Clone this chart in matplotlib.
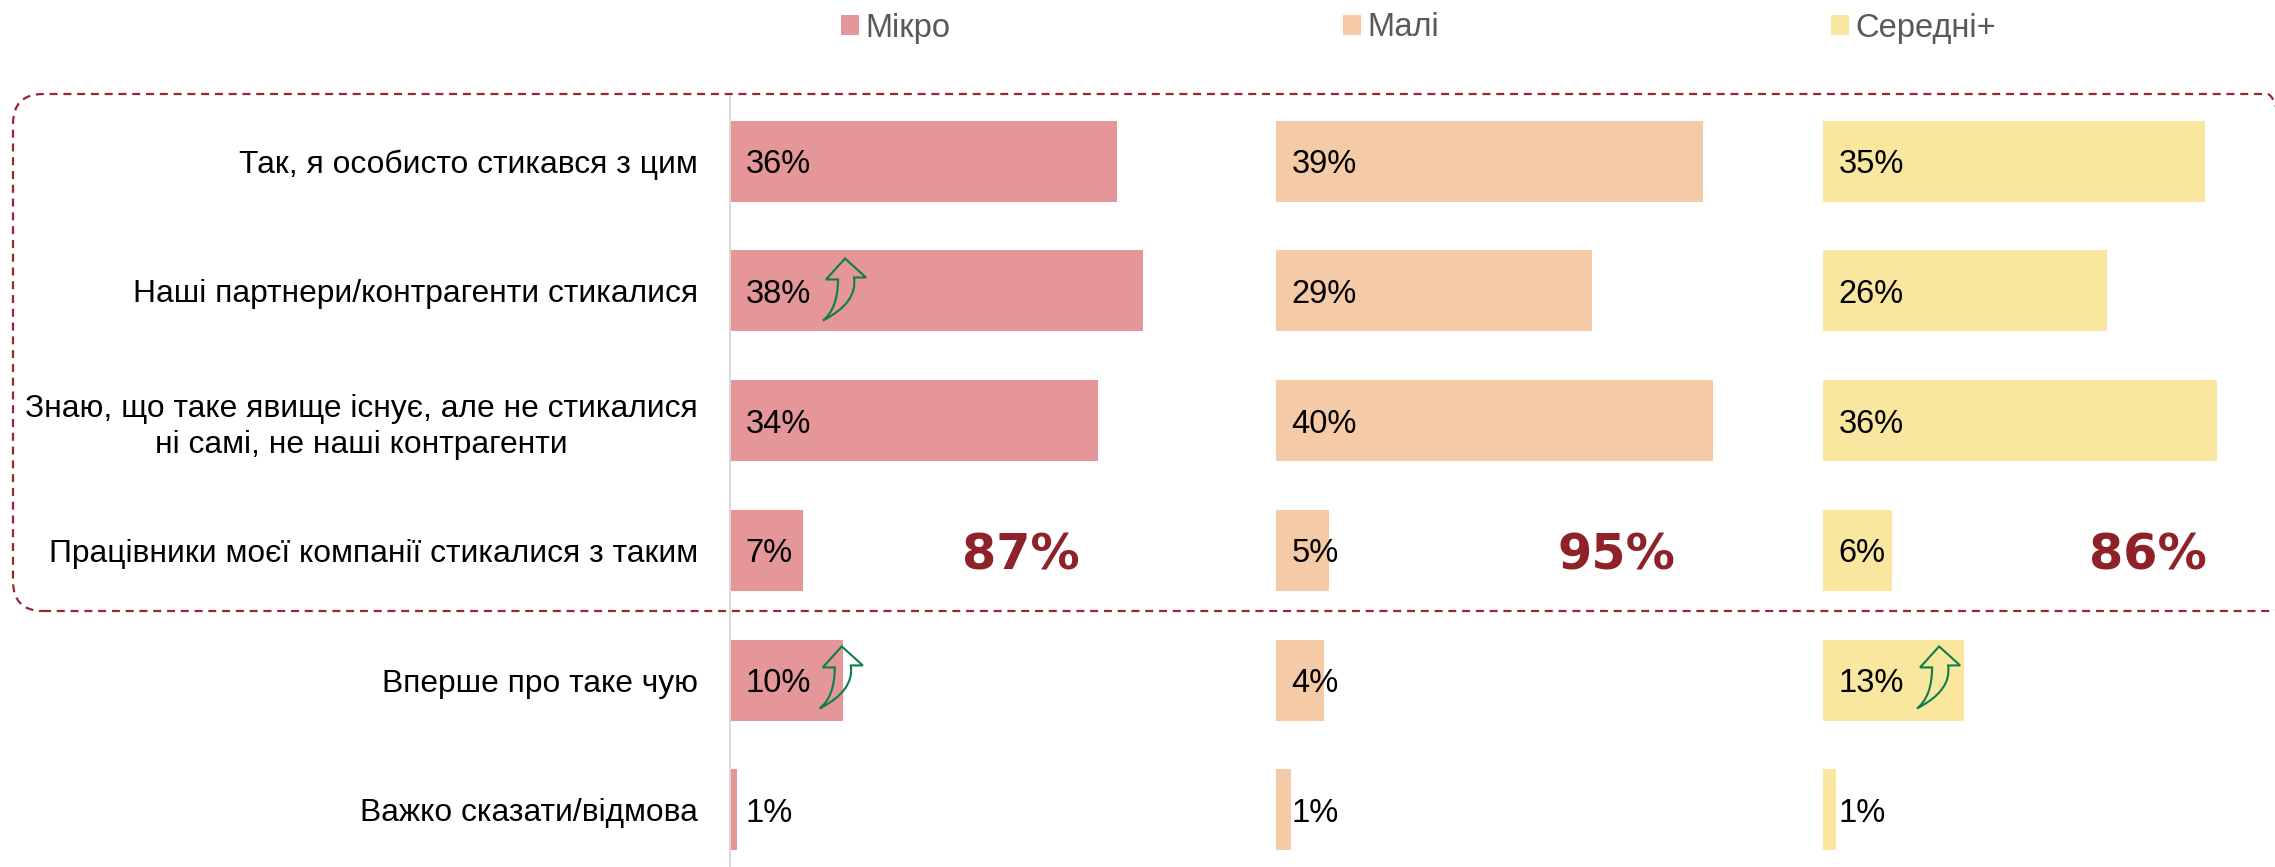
import matplotlib
matplotlib.use('Agg')
import matplotlib.pyplot as plt
from matplotlib.patches import FancyBboxPatch, PathPatch
from matplotlib.path import Path
from matplotlib.transforms import Affine2D, IdentityTransform

W, H = 2275, 867

categories = [
    "Так, я особисто стикався з цим",
    "Наші партнери/контрагенти стикалися",
    "Знаю, що таке явище існує, але не стикалися\nні самі, не наші контрагенти",
    "Працівники моєї компанії стикалися з таким",
    "Вперше про таке чую",
    "Важко сказати/відмова",
]
groups = ["Мікро", "Малі", "Середні+"]
mikro = [35.7, 38.1, 33.9, 6.7, 10.4, 0.6]
mali = [39.4, 29.1, 40.3, 4.9, 4.4, 1.4]
seredni = [35.2, 26.2, 36.3, 6.4, 13.0, 1.2]
totals = ["87%", "95%", "86%"]
colors = ["#E49699", "#F5CBA7", "#F9E79F"]

plt.rcParams['font.family'] = ['Liberation Sans', 'DejaVu Sans']

fig = plt.figure(figsize=(W / 100, H / 100), dpi=100)

PX_PER_PCT = 10.85
left_edges = [730, 1276, 1823]
legend_x = [841, 1343, 1831]
total_x = [21.4, 25.9, 24.5]
top, bottom = 95, 867
rows = list(range(len(categories)))


def make_axes(x0, width):
    ax = fig.add_axes([x0 / W, 1 - bottom / H, width / W, (bottom - top) / H])
    ax.set_xlim(0, width / PX_PER_PCT)
    ax.set_ylim(5.44, -0.51)
    ax.patch.set_alpha(0)
    for s in ax.spines.values():
        s.set_visible(False)
    ax.set_xticks([])
    ax.set_yticks([])
    return ax


def curved_arrow(ax, x, y):
    # tip of the arrow sits at x, y, outline is in pixels around it
    verts = [(0, 0), (21, 19), (9, 19), (13, 44), (-22, 62), (-7, 50), (-7, 21), (-19, 21), (0, 0)]
    codes = [Path.MOVETO, Path.LINETO, Path.LINETO, Path.CURVE3, Path.CURVE3,
             Path.CURVE3, Path.CURVE3, Path.LINETO, Path.CLOSEPOLY]
    px, py = ax.transData.transform((x, y))
    tr = Affine2D().scale(1, -1).translate(px, py)
    ax.add_patch(PathPatch(Path(verts, codes), transform=tr, facecolor='none',
                           edgecolor='#0B7F45', lw=1.5, clip_on=False, zorder=5))


axes = []
for i, vals in enumerate([mikro, mali, seredni]):
    ax = make_axes(left_edges[i], [500, 500, 452][i])
    bars = ax.barh(rows, vals, height=0.625, color=colors[i], label=groups[i])
    for r, v in zip(rows, vals):
        ax.annotate(f"{v:.0f}%", (0, r), xytext=(11, -2.5), textcoords='offset points',
                    va='center', ha='left', fontsize=23.5, color='black', zorder=4)
    ax.annotate(totals[i], (total_x[i], 3), xytext=(0, -3.5), textcoords='offset points',
                ha='left', va='center', fontsize=35.5, fontweight='bold',
                color='#8F2229', family='DejaVu Sans')
    fig.legend(handles=[bars], loc='center left', bbox_to_anchor=(legend_x[i] / W, 1 - 28 / H),
               frameon=False, fontsize=23.5, labelcolor='#595959', handlelength=0.55,
               handleheight=0.55, handletextpad=0.2, borderpad=0, borderaxespad=0)
    axes.append(ax)

axes[0].spines['left'].set_visible(True)
axes[0].spines['left'].set_color('#D9D9D9')
axes[0].spines['left'].set_linewidth(1.4)

axes[0].set_yticks(rows, categories, fontsize=22.9, color='black', multialignment='center',
                   linespacing=1.27)
axes[0].tick_params(axis='y', length=0, pad=23)

curved_arrow(axes[0], 10.6, 0.75)
curved_arrow(axes[0], 10.3, 3.74)
curved_arrow(axes[2], 10.7, 3.74)

# dashed frame runs past the right edge of the picture
r = 30
frame = FancyBboxPatch((13 + r, H - 611 + r), 2297 - 13 - 2 * r, 517 - 2 * r,
                       boxstyle=f"round,pad={r},rounding_size={r}", transform=IdentityTransform(),
                       facecolor='none', edgecolor='#9B2530', lw=1.6,
                       linestyle=(0, (3.6, 2.6)), clip_on=False, zorder=6)
fig.add_artist(frame)

fig.savefig("out.png", dpi=100)
